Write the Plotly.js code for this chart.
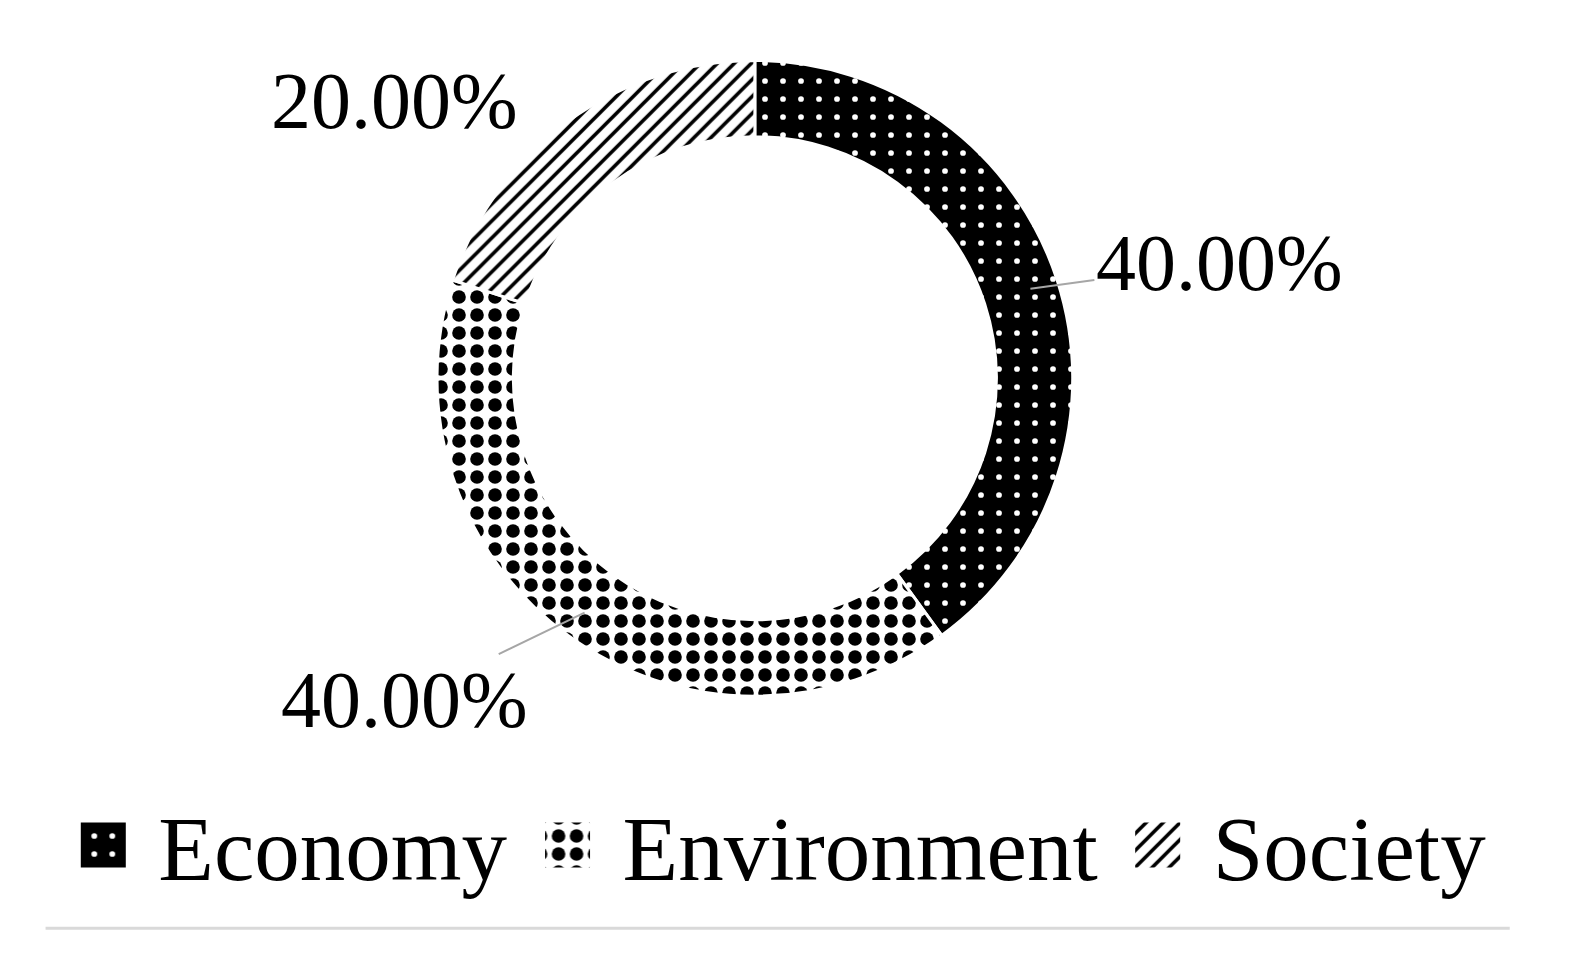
<!DOCTYPE html>
<html>
<head>
<meta charset="utf-8">
<script src="https://cdn.plot.ly/plotly-3.0.1.min.js"></script>
<style>
  html, body { margin: 0; padding: 0; background: white; }
  #chart { width: 1571px; height: 975px; }
</style>
</head>
<body>
<div id="chart"></div>
<script>
let categories = ["Economy", "Environment", "Society"];
let shares = [40, 40, 20];
let labelTexts = ["40.00%", "40.00%", "20.00%"];

let W = 1571, H = 975;
let domX = [0.278, 0.683];
let domY = [0.286, 0.938];
let holeFrac = 0.76;

// label offsets from the ring (pixels) and whether the leader line shows
let labelOffsets = [[189, -26], [-180, 87], [-190, -43]];
let showLeader = [true, true, false];

let chart = document.getElementById("chart");

let trace = {
    type: "pie",
    labels: categories,
    values: shares,
    hole: holeFrac,
    sort: false,
    direction: "clockwise",
    rotation: 0,
    textinfo: "none",
    hoverinfo: "label+percent",
    domain: { x: domX, y: domY },
    marker: {
        colors: ["black", "white", "white"],
        line: { color: "white", width: 3 },
        pattern: {
            shape: [".", ".", "/"],
            fillmode: "replace",
            bgcolor: ["black", "white", "white"],
            fgcolor: ["white", "black", "black"],
            size: [18, 18, 12],
            solidity: [0.08, 0.45, 0.3]
        }
    }
};

// place labels from the slice mid-angles
let total = shares.reduce((a, b) => a + b, 0);
let cxPx = (domX[0] + domX[1]) / 2 * W;
let cyPx = H - (domY[0] + domY[1]) / 2 * H;
let rPx = (domY[1] - domY[0]) * H / 2;
let midR = rPx * (1 + holeFrac) / 2 + 10;
let annotations = [];
let cum = 0;
for (let i = 0; i < shares.length; i++) {
    let mid = (cum + shares[i] / 2) / total * 2 * Math.PI;
    cum += shares[i];
    let px = cxPx + midR * Math.sin(mid);
    let py = cyPx - midR * Math.cos(mid);
    annotations.push({
        xref: "paper", yref: "paper",
        x: px / W, y: 1 - py / H,
        text: labelTexts[i],
        showarrow: true,
        arrowhead: 0,
        arrowwidth: 2,
        arrowcolor: showLeader[i] ? "#a6a6a6" : "rgba(0,0,0,0)",
        ax: labelOffsets[i][0],
        ay: labelOffsets[i][1],
        font: { family: "Liberation Serif, serif", size: 80, color: "black" }
    });
}

let layout = {
    width: W,
    height: H,
    margin: { l: 0, r: 0, t: 0, b: 0 },
    paper_bgcolor: "white",
    showlegend: true,
    legend: {
        orientation: "h",
        x: 0.49, xanchor: "center",
        y: 0.133, yanchor: "middle",
        font: { family: "Liberation Serif, serif", size: 91, color: "black" },
        itemwidth: 100
    },
    annotations: annotations,
    shapes: [{
        type: "line", xref: "paper", yref: "paper",
        x0: 0.029, x1: 0.961, y0: 0.048, y1: 0.048,
        line: { color: "#d9d9d9", width: 3 }
    }]
};

Plotly.newPlot(chart, [trace], layout, { displayModeBar: false }).then(function () {
    // bigger legend swatches, like the original figure
    document.querySelectorAll("#chart .legend path.legendpie").forEach(function (p) {
        p.setAttribute("d", "M24,24H-24V-24H24Z");
    });
});
</script>
</body>
</html>
